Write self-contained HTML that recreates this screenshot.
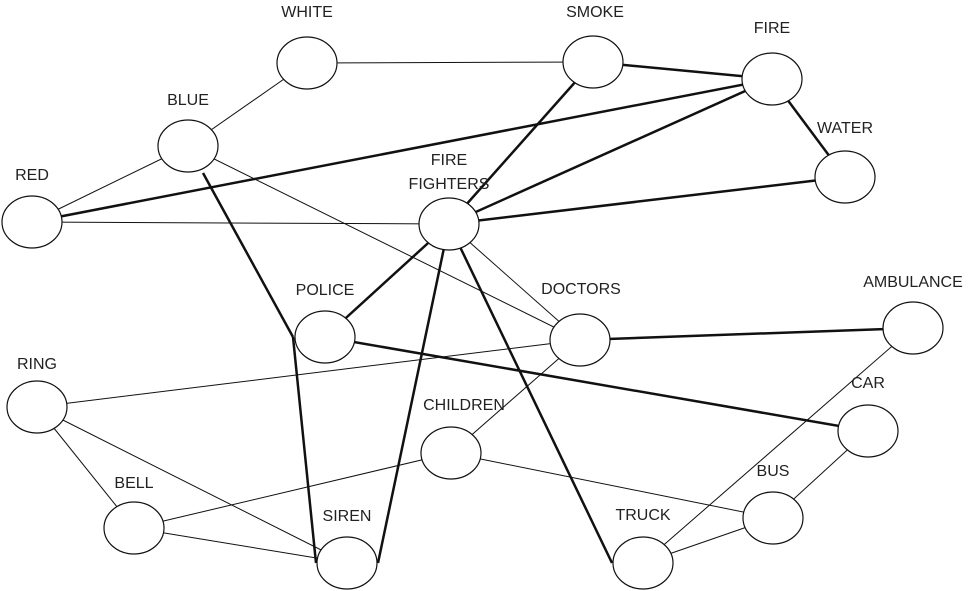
<!DOCTYPE html>
<html><head><meta charset="utf-8"><style>
html,body{margin:0;padding:0;background:#fff;}
svg{display:block;}
text{font-family:"Liberation Sans",sans-serif;font-size:16px;fill:#222;text-anchor:middle;}
</style></head><body>
<svg width="975" height="591" viewBox="0 0 975 591" xmlns="http://www.w3.org/2000/svg">
<g stroke="#111" fill="none">
<g stroke-width="1">
<line x1="307" y1="63" x2="593" y2="62"/>
<line x1="307" y1="63" x2="188" y2="146"/>
<line x1="188" y1="146" x2="32" y2="222"/>
<line x1="188" y1="146" x2="580" y2="340"/>
<line x1="32" y1="222" x2="449" y2="224"/>
<line x1="449" y1="224" x2="580" y2="340"/>
<line x1="580" y1="340" x2="37" y2="407"/>
<line x1="580" y1="340" x2="451" y2="453"/>
<line x1="37" y1="407" x2="134" y2="528"/>
<line x1="37" y1="407" x2="347" y2="563"/>
<line x1="134" y1="528" x2="451" y2="453"/>
<line x1="134" y1="528" x2="347" y2="563"/>
<line x1="451" y1="453" x2="773" y2="518"/>
<line x1="913" y1="328" x2="643" y2="563"/>
<line x1="868" y1="431" x2="773" y2="518"/>
<line x1="773" y1="518" x2="643" y2="563"/>
</g>
<g stroke-width="2.5">
<line x1="593" y1="62" x2="772" y2="79"/>
<line x1="772" y1="79" x2="32" y2="222"/>
<line x1="772" y1="79" x2="845" y2="177"/>
<line x1="772" y1="79" x2="449" y2="224"/>
<line x1="593" y1="62" x2="449" y2="224"/>
<line x1="845" y1="177" x2="449" y2="224"/>
<line x1="203" y1="173" x2="293" y2="337"/>
<line x1="293" y1="337" x2="316" y2="563"/>
<line x1="449" y1="224" x2="325" y2="337"/>
<line x1="449" y1="224" x2="378" y2="563"/>
<line x1="449" y1="224" x2="612" y2="563"/>
<line x1="325" y1="337" x2="868" y2="431"/>
<line x1="580" y1="340" x2="913" y2="328"/>
</g>
</g>
<g stroke="#111" stroke-width="1.2" fill="#fff">
<ellipse cx="307" cy="63" rx="30" ry="26"/>
<ellipse cx="593" cy="62" rx="30" ry="26"/>
<ellipse cx="772" cy="79" rx="30" ry="26"/>
<ellipse cx="188" cy="146" rx="30" ry="26"/>
<ellipse cx="845" cy="177" rx="30" ry="26"/>
<ellipse cx="32" cy="222" rx="30" ry="26"/>
<ellipse cx="449" cy="224" rx="30" ry="26"/>
<ellipse cx="325" cy="337" rx="30" ry="26"/>
<ellipse cx="580" cy="340" rx="30" ry="26"/>
<ellipse cx="913" cy="328" rx="30" ry="26"/>
<ellipse cx="37" cy="407" rx="30" ry="26"/>
<ellipse cx="451" cy="453" rx="30" ry="26"/>
<ellipse cx="868" cy="431" rx="30" ry="26"/>
<ellipse cx="134" cy="528" rx="30" ry="26"/>
<ellipse cx="773" cy="518" rx="30" ry="26"/>
<ellipse cx="347" cy="563" rx="30" ry="26"/>
<ellipse cx="643" cy="563" rx="30" ry="26"/>
</g>
<text x="307" y="17">WHITE</text>
<text x="595" y="17">SMOKE</text>
<text x="772" y="33">FIRE</text>
<text x="188" y="105">BLUE</text>
<text x="845" y="133">WATER</text>
<text x="32" y="180">RED</text>
<text x="449" y="165">FIRE</text>
<text x="449" y="189">FIGHTERS</text>
<text x="325" y="295">POLICE</text>
<text x="581" y="294">DOCTORS</text>
<text x="913" y="287">AMBULANCE</text>
<text x="37" y="369">RING</text>
<text x="464" y="410">CHILDREN</text>
<text x="868" y="388">CAR</text>
<text x="134" y="488">BELL</text>
<text x="773" y="476">BUS</text>
<text x="347" y="521">SIREN</text>
<text x="643" y="520">TRUCK</text>
</svg>
</body></html>
